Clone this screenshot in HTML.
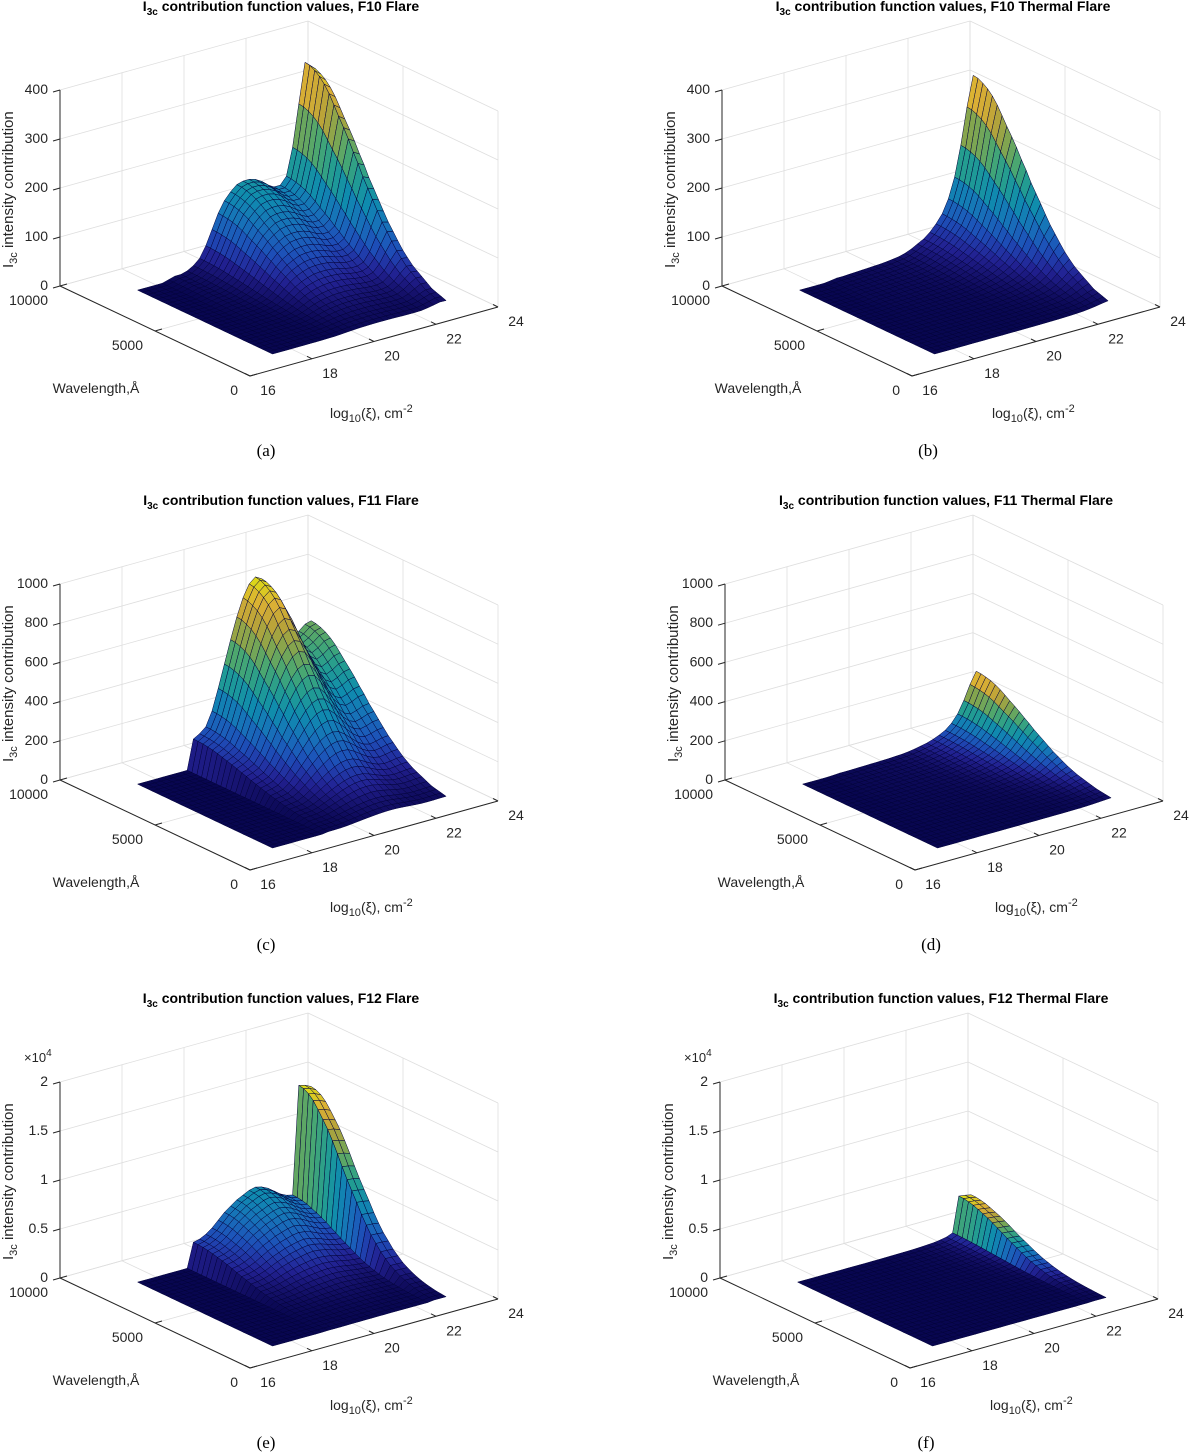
<!DOCTYPE html>
<html><head><meta charset="utf-8"><style>
html,body{margin:0;padding:0;background:#fff;}
svg{display:block;font-family:"Liberation Sans",Arial,sans-serif;}
</style></head><body>
<svg id="fig" width="1200" height="1453" viewBox="0 0 1200 1453" xmlns="http://www.w3.org/2000/svg">
<rect x="0" y="0" width="1200" height="1453" fill="#ffffff"/>
</svg>
<script>
// Shared sample grids
const xiVals = [17.4,17.6,17.8,18.0,18.2,18.4,18.6,18.8,19.0,19.2,19.4,19.6,19.8,20.0,20.2,20.4,20.6,20.8,21.0,21.2,21.4,21.6,21.8,22.0,22.2,22.4,22.6,22.8,23.0];
const lamVals = [1100,1350,1610,1860,2110,2370,2620,2870,3130,3380,3640,3890,4140,4400,4650,4900,5160,5410,5660,5920,6170,6430,6680,6930,7190,7440,7690,7950,8200];
// wavelength envelopes
const aLamWide = [0.03,0.04,0.05,0.06,0.08,0.1,0.12,0.14,0.17,0.2,0.24,0.28,0.32,0.37,0.42,0.47,0.52,0.58,0.63,0.69,0.74,0.79,0.84,0.89,0.93,0.96,0.98,0.995,1.0];
const aLamNarrow = [0.007,0.01,0.014,0.02,0.027,0.036,0.048,0.062,0.081,0.1,0.13,0.16,0.2,0.24,0.29,0.345,0.41,0.47,0.53,0.6,0.67,0.74,0.8,0.85,0.9,0.945,0.975,0.994,1.0];
// column-density profiles
const profA = [0,0,0,0,0,0.01,0.02,0.02,0.03,0.05,0.08,0.14,0.22,0.30,0.36,0.40,0.43,0.44,0.44,0.43,0.41,0.38,0.36,0.36,0.40,0.55,0.78,1.0,0.97];
const profB = [0,0,0,0,0,0.005,0.01,0.01,0.012,0.014,0.016,0.018,0.02,0.022,0.025,0.03,0.035,0.045,0.06,0.08,0.1,0.13,0.17,0.22,0.3,0.42,0.6,0.82,1.0];
const profC = [0,0,0,0,0,0,0,0,0,0.17,0.19,0.22,0.3,0.42,0.55,0.68,0.8,0.9,0.97,1.0,0.98,0.9,0.8,0.7,0.63,0.6,0.62,0.65,0.66];
const profD = [0,0,0,0,0,0.005,0.01,0.01,0.012,0.014,0.016,0.018,0.02,0.022,0.025,0.03,0.035,0.045,0.06,0.08,0.1,0.13,0.17,0.22,0.3,0.42,0.6,0.82,1.0];
const profE = [0,0,0,0,0,0,0,0,0,0.16,0.17,0.19,0.22,0.26,0.30,0.33,0.36,0.38,0.40,0.41,0.40,0.38,0.35,0.32,0.30,0.29,1.0,0.99,0.97];
const profF = [0,0,0,0,0,0,0,0,0,0,0,0,0,0,0.002,0.004,0.006,0.008,0.01,0.014,0.02,0.03,0.04,0.06,0.09,0.15,1.0,0.98,0.95];
const peaks = [370,340,890,330,1.55,0.42];
const zMaxes = [400,400,1000,1000,2,2];
const zTicksSmall = [0,100,200,300,400];
const zTicksMid = [0,200,400,600,800,1000];
const zTicksBig = [0,0.5,1,1.5,2];
const zTickLabelsBig = ['0','0.5','1','1.5','2'];
const xiTicks = [16,18,20,22,24];
const lamTicks = [0,5000,10000];
const titles = ['F10 Flare','F10 Thermal Flare','F11 Flare','F11 Thermal Flare','F12 Flare','F12 Thermal Flare'];
const captions = ['(a)','(b)','(c)','(d)','(e)','(f)'];

const panels = [
  {ox:0,oy:0,prof:profA,env:aLamWide,zt:zTicksSmall},
  {ox:662,oy:0,prof:profB,env:aLamWide,zt:zTicksSmall},
  {ox:0,oy:494,prof:profC,env:aLamWide,zt:zTicksMid},
  {ox:665,oy:494,prof:profD,env:aLamWide,zt:zTicksMid},
  {ox:0,oy:992,prof:profE,env:aLamNarrow,zt:zTicksBig,labels:zTickLabelsBig,exp:true},
  {ox:660,oy:992,prof:profF,env:aLamNarrow,zt:zTicksBig,labels:zTickLabelsBig,exp:true}
];

const NS='http://www.w3.org/2000/svg';
const svg=document.getElementById('fig');
function mk(tag,attrs,parent){const e=document.createElementNS(NS,tag);for(const k in attrs)e.setAttribute(k,attrs[k]);(parent||svg).appendChild(e);return e;}

const PAR=[[0,62,38,168],[0.1,71,68,234],[0.2,44,120,245],[0.3,30,150,222],[0.4,18,172,198],[0.5,40,185,160],[0.6,85,194,120],[0.7,150,190,80],[0.8,210,186,55],[0.9,250,200,50],[1.0,249,251,14]];
function parula(t){t=Math.max(0,Math.min(1,t));for(let i=1;i<PAR.length;i++){if(t<=PAR[i][0]){const a=PAR[i-1],b=PAR[i],u=(t-a[0])/(b[0]-a[0]);return [a[1]+(b[1]-a[1])*u,a[2]+(b[2]-a[2])*u,a[3]+(b[3]-a[3])*u];}}return [249,251,14];}
function cellColor(t){const c=parula(t);const w=0.78*Math.exp(-t*6)+0.12;const n=[2,3,70];return 'rgb('+c.map((v,i)=>Math.round(v*(1-w)+n[i]*w)).join(',')+')';}

panels.forEach((p,k)=>{
  const zmax=zMaxes[k];
  const g=mk('g',{});
  
  
  function P(xi,L,zn){return [p.ox+250+31*(xi-16)-19*L, p.oy+376-8.62*(xi-16)-9*L-196*zn];}
  function line(a,b,stroke,w,name){const l=mk('line',{x1:a[0].toFixed(1),y1:a[1].toFixed(1),x2:b[0].toFixed(1),y2:b[1].toFixed(1),stroke:stroke,'stroke-width':w},g);
    
    
    return l;}
  const GC='#dedede';
  xiTicks.forEach(t=>{line(P(t,10,0),P(t,10,1),GC,0.8,'back-wall-grid-xi');line(P(t,0,0),P(t,10,0),GC,0.8,'floor-grid-xi');});
  lamTicks.forEach(L=>{line(P(24,L/1000,0),P(24,L/1000,1),GC,0.8,'side-wall-grid-lambda');line(P(16,L/1000,0),P(24,L/1000,0),GC,0.8,'floor-grid-lambda');});
  p.zt.forEach(z=>{const zn=z/zmax;line(P(16,10,zn),P(24,10,zn),GC,0.8,'back-wall-grid-z');line(P(24,0,zn),P(24,10,zn),GC,0.8,'side-wall-grid-z');});
  const sg=mk('g',{},g);
  
  
  const pk=peaks[k];
  const Z=(i,j)=>pk*p.prof[i]*p.env[j];
  for(let j=lamVals.length-2;j>=0;j--){
    for(let i=xiVals.length-2;i>=0;i--){
      const pts=[[i,j],[i+1,j],[i+1,j+1],[i,j+1]];
      let zs=0;const s=pts.map(([a,b])=>{const z=Z(a,b);zs+=z;const q=P(xiVals[a],lamVals[b]/1000,z/zmax);return q[0].toFixed(1)+','+q[1].toFixed(1);}).join(' ');
      const t=(zs/4)/pk;
      const poly=mk('polygon',{points:s,fill:cellColor(t),stroke:'#02023a','stroke-width':0.5,'stroke-linejoin':'round'},sg);
      
      
    }
  }
  const AC='#262626';
  line(P(16,10,0),P(16,10,1),AC,1,'z-axis-line');
  line(P(16,0,0),P(16,10,0),AC,1,'wavelength-axis-line');
  line(P(16,0,0),P(24,0,0),AC,1,'xi-axis-line');
  function text(x,y,str,attrs,name){const t=mk('text',Object.assign({x:x.toFixed(1),y:y.toFixed(1),'font-size':14,fill:'#262626'},attrs||{}),g);t.textContent=str;
    
    
    return t;}
  p.zt.forEach((z,idx)=>{const q=P(16,10,z/zmax);line(q,[q[0]-7,q[1]+2],AC,1,'z-tick');
    text(q[0]-12,q[1]+4,p.labels?p.labels[idx]:String(z),{'text-anchor':'end'},'z-tick-label');});
  lamTicks.forEach(L=>{const q=P(16,L/1000,0);line(q,[q[0]+7,q[1]-2],AC,1,'wavelength-tick');
    text(q[0]-12,q[1]+19,String(L),{'text-anchor':'end'},'wavelength-tick-label');});
  xiTicks.forEach(t=>{const q=P(t,0,0);line(q,[q[0]-5,q[1]-2.5],AC,1,'xi-tick');
    text(q[0]+18,q[1]+19,String(t),{'text-anchor':'middle'},'xi-tick-label');});
  if(p.exp){const e=text(p.ox+24,p.oy+70,'\u00d710',{'font-size':13},'exponent-label');const sp=mk('tspan',{'font-size':10,dy:-6},e);sp.textContent='4';}
  text(p.ox+96,p.oy+393,'Wavelength,\u00c5',{'text-anchor':'middle'},'wavelength-axis-title');
  const xl=text(p.ox+330,p.oy+418,'log',{},'xi-axis-title');
  const s1=mk('tspan',{'font-size':11,dy:4},xl);s1.textContent='10';
  const s2=mk('tspan',{dy:-4},xl);s2.textContent='(\u03be), cm';
  const s3=mk('tspan',{'font-size':11,dy:-6},xl);s3.textContent='-2';
  const zl=text(0,0,'I',{transform:'translate('+(p.ox+13)+','+(p.oy+268)+') rotate(-90)','font-size':15},'z-axis-title');
  const z1=mk('tspan',{'font-size':11,dy:4},zl);z1.textContent='3c';
  const z2=mk('tspan',{dy:-4},zl);z2.textContent=' intensity contribution';
  const tt=text(p.ox+281,p.oy+11,'I',{'text-anchor':'middle','font-weight':'bold','font-size':14,fill:'#000'},'panel-title');
  const t1=mk('tspan',{'font-size':10,dy:4},tt);t1.textContent='3c';
  const t2=mk('tspan',{dy:-4},tt);t2.textContent=' contribution function values, '+titles[k];
  text(p.ox+266,p.oy+456,captions[k],{'text-anchor':'middle','font-size':17,fill:'#000','font-family':'"Liberation Serif",serif'},'panel-caption');
});
</script>
</body></html>
